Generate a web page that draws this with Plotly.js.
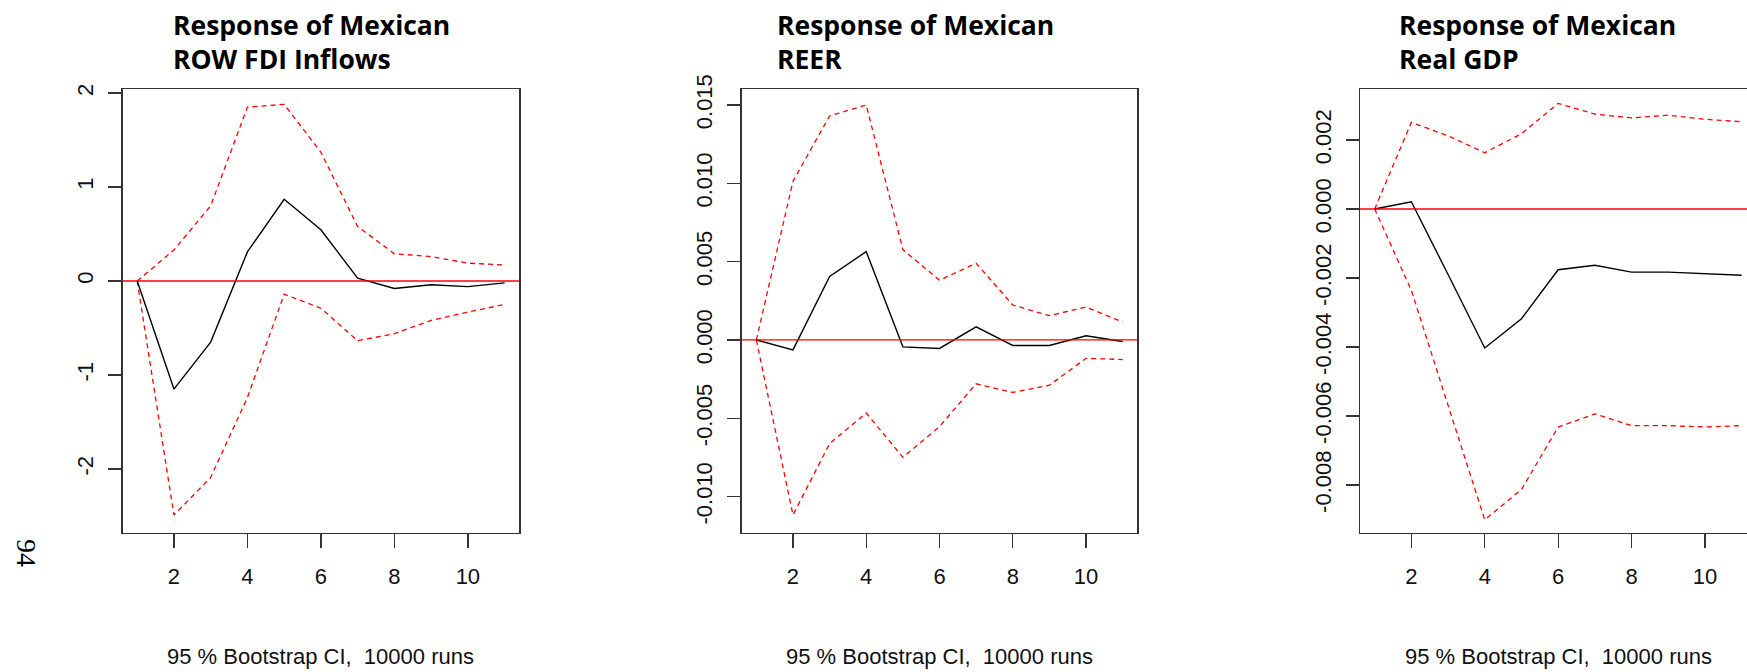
<!DOCTYPE html>
<html><head><meta charset="utf-8">
<script src="https://cdn.plot.ly/plotly-3.0.1.min.js"></script>
<style>html,body{margin:0;padding:0;overflow:hidden;background:#fff}</style>
</head><body><div id="chart" style="width:1760px;height:672px"></div>
<script>
// Impulse response horizon
const horizon = [1, 2, 3, 4, 5, 6, 7, 8, 9, 10, 11];

// Panel 1: ROW FDI Inflows
const fdiIrf   = [0, -1.15, -0.65, 0.31, 0.87, 0.545, 0.03, -0.08, -0.04, -0.06, -0.02];
const fdiUpper = [0, 0.33, 0.80, 1.85, 1.88, 1.37, 0.58, 0.29, 0.26, 0.19, 0.17];
const fdiLower = [0, -2.49, -2.09, -1.24, -0.14, -0.29, -0.636, -0.56, -0.42, -0.33, -0.25];

// Panel 2: REER
const reerIrf   = [0, -0.00063, 0.00406, 0.00564, -0.00044, -0.00054, 0.00084, -0.00035, -0.00035, 0.00027, -0.0001];
const reerUpper = [0, 0.01013, 0.0143, 0.0150, 0.00577, 0.00381, 0.0049, 0.00223, 0.00155, 0.0021, 0.00114];
const reerLower = [0, -0.01117, -0.00662, -0.00466, -0.00749, -0.00553, -0.0028, -0.00335, -0.00289, -0.00117, -0.00125];

// Panel 3: Real GDP
const gdpIrf   = [0, 0.00021, -0.0019, -0.00403, -0.00318, -0.00176, -0.00163, -0.00183, -0.00183, -0.00188, -0.00192];
const gdpUpper = [0, 0.00251, 0.00212, 0.00163, 0.00218, 0.00306, 0.00275, 0.00264, 0.00272, 0.0026, 0.00253];
const gdpLower = [0, -0.00236, -0.00569, -0.00901, -0.00813, -0.00632, -0.00594, -0.00628, -0.00628, -0.00632, -0.00628];

// Tick labels
const xTicks = [2, 4, 6, 8, 10];
const fdiTicks = [-2, -1, 0, 1, 2];
const fdiTickText = ['-2', '-1', '0', '1', '2'];
const reerTicks = [-0.010, -0.005, 0.000, 0.005, 0.010, 0.015];
const reerTickText = ['-0.010', '-0.005', '0.000', '0.005', '0.010', '0.015'];
const gdpTicks = [-0.008, -0.006, -0.004, -0.002, 0.000, 0.002];
const gdpTickText = ['-0.008', '-0.006', '-0.004', '-0.002', '0.000', '0.002'];

const titles = ['Response of Mexican<br>ROW FDI Inflows', 'Response of Mexican<br>REER', 'Response of Mexican<br>Real GDP'];
const subLabel = '95 % Bootstrap CI,\u00a0 10000 runs';
const pageNumber = '94';

const W = 1760, H = 672;
const panels = [
  {irf: fdiIrf, up: fdiUpper, lo: fdiLower, ticks: fdiTicks, text: fdiTickText, range: [-2.676, 2.043], px: [122.5, 519.3], titleX: 171},
  {irf: reerIrf, up: reerUpper, lo: reerLower, ticks: reerTicks, text: reerTickText, range: [-0.01229, 0.01602], px: [741.7, 1137.3], titleX: 775},
  {irf: gdpIrf, up: gdpUpper, lo: gdpLower, ticks: gdpTicks, text: gdpTickText, range: [-0.009377, 0.003478], px: [1360, 1756.3], titleX: 1397}
];

const traces = [];
const layout = {
  width: W, height: H, margin: {l: 0, r: 0, t: 0, b: 0},
  paper_bgcolor: '#fff', plot_bgcolor: '#fff', showlegend: false,
  shapes: [], annotations: []
};
const tickFont = {family: 'Liberation Sans, Arial, sans-serif', size: 22, color: '#111'};
const yDom = [(H - 532.5) / H, (H - 89) / H];

panels.forEach((p, i) => {
  const n = i === 0 ? '' : String(i + 1);
  const xa = 'x' + n, ya = 'y' + n;
  const common = {x: horizon, xaxis: xa, yaxis: ya, mode: 'lines', hoverinfo: 'skip'};
  traces.push(Object.assign({}, common, {y: p.up, line: {color: '#ff0000', width: 1.3, dash: '5px,4px'}}));
  traces.push(Object.assign({}, common, {y: p.lo, line: {color: '#ff0000', width: 1.3, dash: '5px,4px'}}));
  traces.push(Object.assign({}, common, {y: p.irf, line: {color: '#000000', width: 1.4}}));
  layout['xaxis' + n] = {
    domain: [p.px[0] / W, p.px[1] / W], anchor: ya, range: [0.6, 11.4],
    tickmode: 'array', tickvals: xTicks, ticktext: xTicks.map(String),
    showline: true, mirror: true, linecolor: '#333', linewidth: 1.5,
    ticks: 'outside', ticklen: 14, tickwidth: 1.3, tickcolor: '#333',
    showgrid: false, zeroline: false, tickfont: tickFont, ticklabelstandoff: 10
  };
  layout['yaxis' + n] = {
    domain: yDom, anchor: xa, range: p.range,
    tickmode: 'array', tickvals: p.ticks, ticktext: p.text, tickangle: -90,
    showline: true, mirror: true, linecolor: '#333', linewidth: 1.5,
    ticks: 'outside', ticklen: 13, tickwidth: 1.3, tickcolor: '#333',
    showgrid: false, zeroline: false, tickfont: tickFont, ticklabelstandoff: 6
  };
  layout.shapes.push({type: 'line', xref: xa + ' domain', yref: ya, x0: 0, x1: 1, y0: 0, y1: 0,
    line: {color: '#ff0000', width: 1.3}});
  layout.annotations.push({text: titles[i], xref: 'paper', yref: 'paper', x: p.titleX / W, y: 1 - 5 / H,
    xanchor: 'left', yanchor: 'top', align: 'left', showarrow: false,
    font: {family: 'Open Sans, sans-serif', size: 26.5, color: '#000', weight: 700}});
  layout.annotations.push({text: subLabel, xref: 'paper', yref: 'paper', x: (p.px[0] + Math.min(p.px[1], 1756)) / 2 / W,
    y: (H - 656) / H, xanchor: 'center', yanchor: 'middle', showarrow: false, font: tickFont});
});
layout.annotations.push({text: pageNumber, xref: 'paper', yref: 'paper', x: 27 / W, y: (H - 553) / H,
  xanchor: 'center', yanchor: 'middle', showarrow: false, textangle: 90,
  font: {family: 'Liberation Serif, Times New Roman, serif', size: 28, color: '#000'}});

Plotly.newPlot('chart', traces, layout, {staticPlot: true, displayModeBar: false});
</script></body></html>
